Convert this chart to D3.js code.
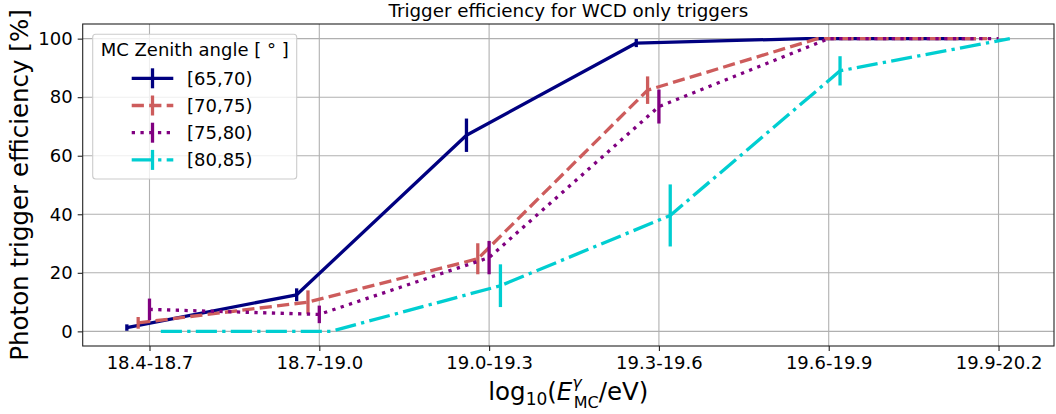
<!DOCTYPE html>
<html>
<head>
<meta charset="utf-8">
<script src="https://cdn.jsdelivr.net/npm/d3@7"></script>
<style>
  html, body { margin: 0; padding: 0; background: #fff; }
  svg { display: block; }
  text { font-family: "DejaVu Sans", sans-serif; fill: #000; }
</style>
</head>
<body>
<svg id="chart" width="1056" height="414"></svg>
<script>
// ---- Data ----
const categories = ["18.4-18.7", "18.7-19.0", "19.0-19.3", "19.3-19.6", "19.6-19.9", "19.9-20.2"];
const seriesLabels = ["[65,70)", "[70,75)", "[75,80)", "[80,85)"];
const eff_65_70 = [1.3, 12.5, 67.0, 98.5, 100, 100];
const err_65_70 = [1.1, 2.2, 5.7, 1.4, 0, 0];
const eff_70_75 = [2.9, 10.0, 24.8, 82.4, 100, 100];
const err_70_75 = [2.0, 4.0, 5.3, 4.7, 0, 0];
const eff_75_80 = [7.5, 5.8, 25.2, 76.8, 100, 100];
const err_75_80 = [3.7, 3.0, 5.7, 5.8, 0, 0];
const eff_80_85 = [0, 0, 15.6, 39.6, 89.0, 100];
const err_80_85 = [0, 0, 7.3, 10.6, 5.0, 0];
const yTicks = [0, 20, 40, 60, 80, 100];
const titleText = "Trigger efficiency for WCD only triggers";
const yLabelText = "Photon trigger efficiency [%]";
const legendTitle = "MC Zenith angle [ ° ]";

// ---- Styles ----
const colors = ["#000080", "#CD5C5C", "#800080", "#00CED1"];
const lw = 3.3;
const dashes = [null, [3.7 * lw, 1.6 * lw], [1 * lw, 1.65 * lw], [6.4 * lw, 1.6 * lw, 1 * lw, 1.6 * lw]];
const offsetStep = 0.02 / 0.3; // per-series shift in category units
const seriesOffsets = [-2, -1, 0, 1];

const series = [
  { label: seriesLabels[0], vals: eff_65_70, errs: err_65_70 },
  { label: seriesLabels[1], vals: eff_70_75, errs: err_70_75 },
  { label: seriesLabels[2], vals: eff_75_80, errs: err_75_80 },
  { label: seriesLabels[3], vals: eff_80_85, errs: err_80_85 }
];

const svg = d3.select("#chart");
const plot = { left: 82.7, right: 1054, top: 24, bottom: 346 };

const xMin = seriesOffsets[0] * offsetStep;
const xMax = categories.length - 1 + seriesOffsets[3] * offsetStep;
const xPad = (xMax - xMin) * 0.05;
const x = d3.scaleLinear().domain([xMin - xPad, xMax + xPad]).range([plot.left, plot.right]);
const y = d3.scaleLinear().domain([-5, 105]).range([plot.bottom, plot.top]);

// grid
const grid = svg.append("g");
grid.selectAll("line.gx").data(d3.range(categories.length)).join("line")
  .attr("x1", d => x(d)).attr("x2", d => x(d))
  .attr("y1", plot.top).attr("y2", plot.bottom)
  .attr("stroke", "#b0b0b0").attr("stroke-width", 1.1);
grid.selectAll("line.gy").data(yTicks).join("line")
  .attr("x1", plot.left).attr("x2", plot.right)
  .attr("y1", d => y(d)).attr("y2", d => y(d))
  .attr("stroke", "#b0b0b0").attr("stroke-width", 1.1);

// series
const gS = svg.append("g");
series.forEach((s, i) => {
  const off = seriesOffsets[i] * offsetStep;
  const pts = s.vals.map((v, j) => ({ x: j + off, y: v, e: s.errs[j] }));
  const line = d3.line().x(d => x(d.x)).y(d => y(d.y));
  gS.append("path").datum(pts)
    .attr("d", line)
    .attr("fill", "none")
    .attr("stroke", colors[i])
    .attr("stroke-width", lw)
    .attr("stroke-linejoin", "round")
    .attr("stroke-dasharray", dashes[i] ? dashes[i].join(",") : null);
  gS.append("g").selectAll("line").data(pts.filter(d => d.e > 0)).join("line")
    .attr("x1", d => x(d.x)).attr("x2", d => x(d.x))
    .attr("y1", d => y(d.y - d.e)).attr("y2", d => y(d.y + d.e))
    .attr("stroke", colors[i]).attr("stroke-width", lw);
});

// axes
const xAxis = d3.axisBottom(x).tickValues(d3.range(categories.length))
  .tickFormat(i => categories[i]).tickSize(5).tickPadding(5.5);
const gx = svg.append("g").attr("transform", `translate(0,${plot.bottom})`).call(xAxis);
const yAxis = d3.axisLeft(y).tickValues(yTicks).tickSize(5).tickPadding(5);
const gy = svg.append("g").attr("transform", `translate(${plot.left},0)`).call(yAxis);
[gx, gy].forEach(g => {
  g.select(".domain").remove();
  g.selectAll(".tick line").attr("stroke", "#222").attr("stroke-width", 1.1);
  g.selectAll(".tick text").attr("font-size", 18).attr("font-family", "DejaVu Sans").attr("fill", "#000");
});

// spines
svg.append("rect")
  .attr("x", plot.left).attr("y", plot.top)
  .attr("width", plot.right - plot.left).attr("height", plot.bottom - plot.top)
  .attr("fill", "none").attr("stroke", "#222").attr("stroke-width", 1.1);

// title
svg.append("text")
  .attr("x", (plot.left + plot.right) / 2).attr("y", 17)
  .attr("text-anchor", "middle").attr("font-size", 18.3)
  .text(titleText);

// y label
svg.append("text")
  .attr("transform", `translate(28,${(plot.top + plot.bottom) / 2}) rotate(-90)`)
  .attr("text-anchor", "middle").attr("font-size", 24.5)
  .text(yLabelText);

// x label (math)
const xl = svg.append("text")
  .attr("x", (plot.left + plot.right) / 2).attr("y", 400)
  .attr("text-anchor", "middle").attr("font-size", 24.5);
xl.append("tspan").text("log");
xl.append("tspan").attr("font-size", 17).attr("dy", 5).text("10");
xl.append("tspan").attr("dy", -5).text("(");
xl.append("tspan").attr("font-style", "italic").text("E");
xl.append("tspan").attr("font-size", 16).attr("font-style", "italic").attr("dy", -12).text("γ");
xl.append("tspan").attr("font-size", 16).attr("dx", -8).attr("dy", 20).text("MC");
xl.append("tspan").attr("dy", -8).text("/eV)");

// legend
const lg = svg.append("g");
lg.append("rect")
  .attr("x", 92.7).attr("y", 34.3).attr("width", 204).attr("height", 144.7)
  .attr("rx", 3).attr("fill", "#fff").attr("fill-opacity", 0.8)
  .attr("stroke", "#cccccc").attr("stroke-width", 1.1);
lg.append("text").attr("x", 194.7).attr("y", 56).attr("text-anchor", "middle")
  .attr("font-size", 18).text(legendTitle);
series.forEach((s, i) => {
  const cy = 78.3 + i * 27.2;
  lg.append("line").attr("x1", 131.7).attr("x2", 173.3).attr("y1", cy).attr("y2", cy)
    .attr("stroke", colors[i]).attr("stroke-width", lw)
    .attr("stroke-dasharray", dashes[i] ? dashes[i].join(",") : null);
  lg.append("line").attr("x1", 152.5).attr("x2", 152.5).attr("y1", cy - 10).attr("y2", cy + 10)
    .attr("stroke", colors[i]).attr("stroke-width", lw);
  lg.append("text").attr("x", 187).attr("y", cy).attr("dy", "0.35em")
    .attr("font-size", 18).text(s.label);
});
</script>
</body>
</html>
